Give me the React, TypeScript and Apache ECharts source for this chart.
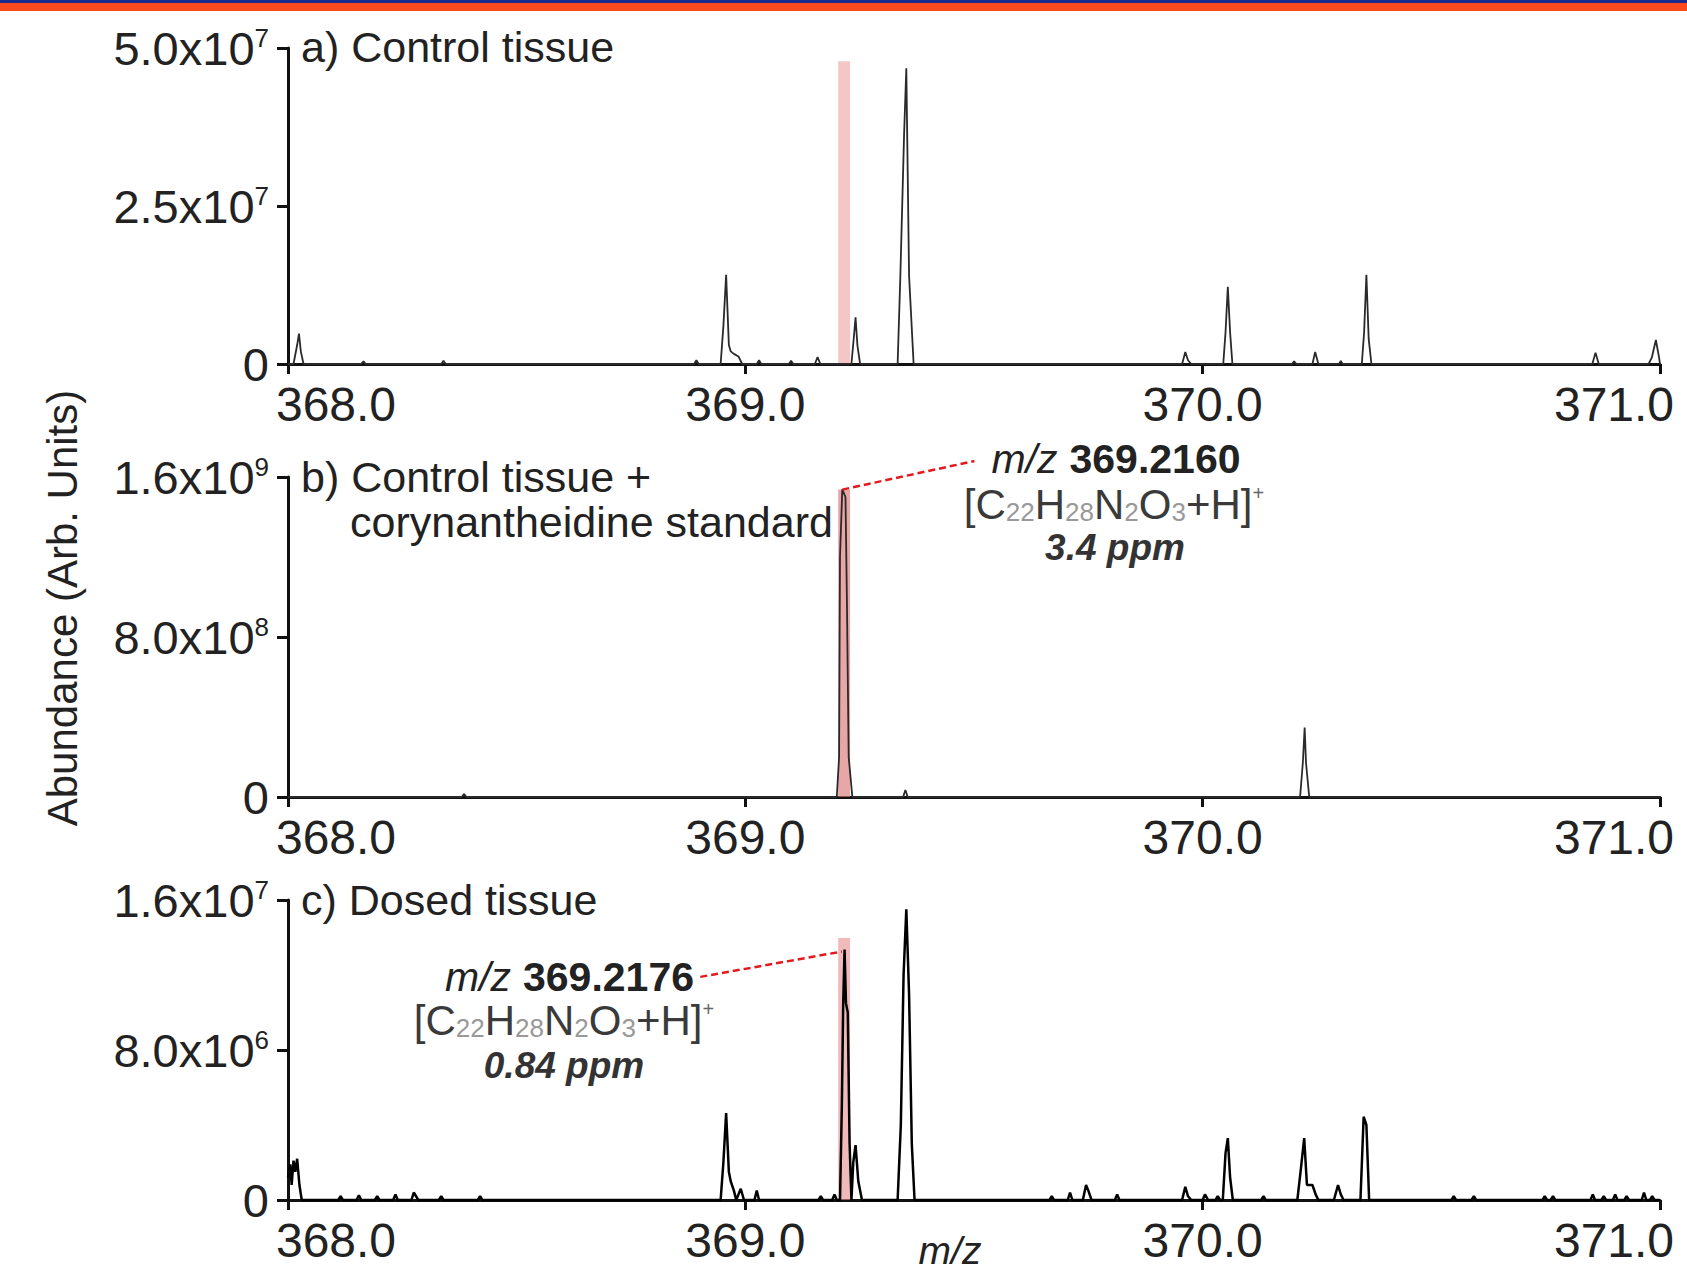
import React, { useEffect, useRef } from 'react';
import * as echarts from 'echarts';

// ---------- DATA ----------
const mzMin = 368;
const mzMax = 371;
const mzStep = 1;

const yMaxA = 5e7, yStepA = 2.5e7;
const yMaxB = 1.6e9, yStepB = 8e8;
const yMaxC = 1.6e7, yStepC = 8e6;

// a) Control tissue  [m/z, abundance]
const controlSpectrum: [number, number][] = [
  [368.0, 0], [368.012, 0], [368.02, 3.0e6], [368.024, 4.8e6], [368.028, 2.0e6], [368.034, 0],
  [368.16, 0], [368.165, 4e5], [368.17, 0],
  [368.335, 0], [368.34, 5e5], [368.345, 0],
  [368.888, 0], [368.893, 6e5], [368.898, 0],
  [368.946, 0], [368.952, 6.0e6], [368.958, 1.41e7], [368.964, 3.0e6], [368.968, 2.0e6], [368.975, 1.6e6], [368.985, 1.2e6], [368.993, 0],
  [369.025, 0], [369.03, 6e5], [369.035, 0],
  [369.095, 0], [369.1, 5e5], [369.105, 0],
  [369.152, 0], [369.158, 1.1e6], [369.164, 0],
  [369.232, 0], [369.237, 4.0e6], [369.241, 7.4e6], [369.245, 3.0e6], [369.251, 0],
  [369.333, 0], [369.339, 1.4e7], [369.347, 3.6e7], [369.352, 4.68e7], [369.358, 1.4e7], [369.368, 0],
  [369.955, 0], [369.962, 1.9e6], [369.968, 6e5], [369.975, 0],
  [370.045, 0], [370.05, 5.0e6], [370.055, 1.22e7], [370.06, 5.0e6], [370.065, 0],
  [370.195, 0], [370.2, 4e5], [370.205, 0],
  [370.24, 0], [370.246, 1.9e6], [370.253, 0],
  [370.298, 0], [370.302, 5e5], [370.306, 0],
  [370.348, 0], [370.353, 5.0e6], [370.358, 1.41e7], [370.363, 4.0e6], [370.369, 0],
  [370.852, 0], [370.859, 1.8e6], [370.866, 0],
  [370.975, 0], [370.982, 1.0e6], [370.991, 3.8e6], [370.998, 1.0e6], [371.0, 0],
];

// b) Control tissue + corynantheidine standard
const standardSpectrum: [number, number][] = [
  [368.0, 0],
  [368.38, 0], [368.385, 1.5e7], [368.39, 0],
  [369.2, 0], [369.205, 2.0e8], [369.207, 1.2e9], [369.212, 1.538e9], [369.219, 1.5e9], [369.222, 1.0e9], [369.226, 2.0e8], [369.234, 0],
  [369.345, 0], [369.35, 3.5e7], [369.355, 0],
  [370.213, 0], [370.219, 1.7e8], [370.223, 3.47e8], [370.226, 1.7e8], [370.233, 0],
  [371.0, 0],
];

// c) Dosed tissue
const dosedSpectrum: [number, number][] = [
  [368.0, 1.2e6], [368.005, 1.9e6], [368.008, 8e5], [368.012, 2.1e6], [368.016, 1.5e6], [368.02, 2.2e6], [368.025, 8e5], [368.03, 0],
  [368.11, 0], [368.115, 2e5], [368.12, 0], [368.15, 0], [368.155, 2.5e5], [368.16, 0],
  [368.19, 0], [368.195, 2e5], [368.2, 0], [368.23, 0], [368.235, 3e5], [368.24, 0],
  [368.27, 0], [368.275, 4e5], [368.28, 2e5], [368.285, 0], [368.33, 0], [368.335, 2e5], [368.34, 0],
  [368.415, 0], [368.42, 2e5], [368.425, 0],
  [368.946, 0], [368.952, 2.0e6], [368.958, 4.64e6], [368.964, 1.5e6], [368.968, 1.0e6], [368.975, 5e5], [368.98, 0], [368.99, 6e5], [368.997, 0],
  [369.02, 0], [369.025, 5e5], [369.03, 0],
  [369.16, 0], [369.165, 2e5], [369.17, 0], [369.19, 0], [369.195, 3e5], [369.2, 0],
  [369.207, 0], [369.211, 5.0e6], [369.214, 1.05e7], [369.217, 1.336e7], [369.22, 1.05e7], [369.224, 1.0e7], [369.228, 3.0e6], [369.232, 0],
  [369.236, 2.0e6], [369.241, 2.93e6], [369.247, 1.0e6], [369.255, 0],
  [369.333, 0], [369.34, 4.0e6], [369.346, 1.2e7], [369.352, 1.55e7], [369.358, 1.1e7], [369.364, 3.0e6], [369.37, 0],
  [369.665, 0], [369.67, 2e5], [369.675, 0], [369.705, 0], [369.71, 4e5], [369.715, 0],
  [369.738, 0], [369.745, 8e5], [369.75, 5e5], [369.757, 0],
  [369.808, 0], [369.813, 3e5], [369.818, 0],
  [369.955, 0], [369.962, 7e5], [369.968, 2e5], [369.975, 0],
  [370.0, 0], [370.005, 3e5], [370.012, 0], [370.028, 0], [370.033, 2e5], [370.038, 0],
  [370.044, 0], [370.05, 2.5e6], [370.055, 3.3e6], [370.06, 1.2e6], [370.066, 0],
  [370.128, 0], [370.133, 2e5], [370.138, 0],
  [370.207, 0], [370.214, 1.5e6], [370.222, 3.3e6], [370.228, 8e5], [370.24, 8e5], [370.247, 3e5], [370.253, 0],
  [370.287, 0], [370.296, 8e5], [370.302, 3e5], [370.308, 0],
  [370.345, 0], [370.352, 4.44e6], [370.358, 4.0e6], [370.364, 0],
  [370.544, 0], [370.549, 2e5], [370.554, 0], [370.588, 0], [370.593, 2e5], [370.598, 0],
  [370.743, 0], [370.748, 2e5], [370.753, 0], [370.761, 0], [370.766, 2e5], [370.771, 0],
  [370.848, 0], [370.853, 3e5], [370.858, 0], [370.872, 0], [370.877, 2e5], [370.882, 0],
  [370.897, 0], [370.902, 3e5], [370.907, 0], [370.922, 0], [370.927, 2e5], [370.932, 0],
  [370.96, 0], [370.965, 4e5], [370.97, 0], [370.978, 0], [370.983, 2e5], [370.988, 0],
  [371.0, 0],
];

// highlighted m/z window and its height in each panel
const highlightMz: [number, number] = [369.203, 369.229];
const highlightTop = [4.79e7, 1.538e9, 1.397e7];

// dashed leader lines [from, to] in data coordinates
const leaderB: [number, number][] = [[369.212, 1.537e9], [369.501, 1.68e9]];
const leaderC: [number, number][] = [[368.9015, 1.19e7], [369.211, 1.325e7]];

// texts
const panelTitles = ['a) Control tissue', 'b) Control tissue +', 'corynantheidine standard', 'c) Dosed tissue'];
const yAxisTitle = 'Abundance (Arb. Units)';
const xAxisTitle = 'm/z';
const annotB = { mz: '369.2160', ppm: '3.4 ppm' };
const annotC = { mz: '369.2176', ppm: '0.84 ppm' };

// ---------- STYLE / LAYOUT ----------
const FONT = '"Liberation Sans", Arial, Helvetica, sans-serif';
const W = 1687;
const H = 1271;
const gridLeft = 288;
const gridRight = W - 1660;
const grids = [
  { top: 48, height: 316 },
  { top: 477, height: 320 },
  { top: 900, height: 300 },
];

const sciLabel = (v: number) => {
  if (v === 0) return '0';
  const e = Math.floor(Math.log10(v) + 1e-9);
  const m = v / Math.pow(10, e);
  return `${m.toFixed(1)}x10{sup|${e}}`;
};

const mzLabel = (v: number) => {
  const s = v.toFixed(1);
  if (v === mzMin) return `{first|${s}}`;
  if (v === mzMax) return `{last|${s}}`;
  return s;
};

const formulaRichText = '{m|[C}{sub|22}{m|H}{sub|28}{m|N}{sub|2}{m|O}{sub|3}{m|+H]}{sup|+}';

function textEl(x: number, y: number, text: string, opts: any = {}) {
  const align = opts.align || 'left';
  return {
    type: 'text',
    x,
    y,
    rotation: opts.rotation || 0,
    silent: true,
    z: 10,
    style: {
      text,
      fontFamily: FONT,
      fontSize: opts.fontSize || 43,
      fontStyle: opts.fontStyle || 'normal',
      fontWeight: opts.fontWeight || 'normal',
      fill: opts.fill || '#222',
      textAlign: align,
      align,
      textVerticalAlign: 'middle',
      verticalAlign: 'middle',
      rich: opts.rich,
    },
  };
}

const annRich = {
  i: { fontStyle: 'italic', fontSize: 41, fontFamily: FONT, fill: '#222', color: '#222' },
  b: { fontWeight: 'bold', fontSize: 41, fontFamily: FONT, fill: '#222', color: '#222' },
};
const formulaRich = {
  m: { fontSize: 42, fontFamily: FONT, fill: '#3a3a3a', color: '#3a3a3a' },
  sub: { fontSize: 26, fontFamily: FONT, fill: '#999', color: '#999', verticalAlign: 'bottom' },
  sup: { fontSize: 20, fontFamily: FONT, fill: '#666', color: '#666', verticalAlign: 'top' },
};

export default function App() {
  const ref = useRef<HTMLDivElement>(null);

  useEffect(() => {
    if (!ref.current) return;
    const chart = echarts.init(ref.current, undefined, { renderer: 'svg' });

    const maxes = [yMaxA, yMaxB, yMaxC];
    const steps = [yStepA, yStepB, yStepC];
    const spectra = [controlSpectrum, standardSpectrum, dosedSpectrum];
    const lineColors = ['#2a2a2a', '#2a2a2a', '#000'];
    const lineWidths = [1.8, 1.8, 2.5];
    const bandColors = ['rgba(238,160,160,0.6)', 'rgba(220,120,120,0.65)', 'rgba(232,140,140,0.6)'];

    const series: any[] = [];
    spectra.forEach((data, i) => {
      series.push({
        type: 'line',
        xAxisIndex: i,
        yAxisIndex: i,
        data: [],
        z: 1,
        silent: true,
        markArea: {
          silent: true,
          itemStyle: { color: bandColors[i] },
          data: [[{ coord: [highlightMz[0], 0] }, { coord: [highlightMz[1], highlightTop[i]] }]],
        },
      });
      series.push({
        type: 'line',
        xAxisIndex: i,
        yAxisIndex: i,
        data,
        showSymbol: false,
        symbol: 'none',
        clip: false,
        z: 3,
        silent: true,
        lineStyle: { color: lineColors[i], width: lineWidths[i] },
      });
    });
    const leaders = [
      { idx: 1, pts: leaderB },
      { idx: 2, pts: leaderC },
    ];
    leaders.forEach(({ idx, pts }) => {
      series.push({
        type: 'line',
        xAxisIndex: idx,
        yAxisIndex: idx,
        data: pts,
        showSymbol: false,
        symbol: 'none',
        clip: false,
        z: 6,
        silent: true,
        lineStyle: { type: [7, 4], color: '#e3191c', width: 2.5 },
      });
    });

    const xLabelBase = { fontSize: 48, fontFamily: FONT, color: '#222' };

    const option: any = {
      animation: false,
      backgroundColor: '#ffffff',
      grid: grids.map((g) => ({
        left: gridLeft,
        right: gridRight,
        top: g.top,
        height: g.height,
        containLabel: false,
        outerBoundsMode: 'none',
      })),
      xAxis: grids.map((_, i) => ({
        type: 'value',
        gridIndex: i,
        min: mzMin,
        max: mzMax,
        interval: mzStep,
        splitLine: { show: false },
        axisLine: { onZero: false, lineStyle: { color: '#111', width: 3 } },
        axisTick: { show: true, length: 10, lineStyle: { color: '#111', width: 3 } },
        axisLabel: {
          margin: 16,
          ...xLabelBase,
          formatter: mzLabel,
          rich: {
            first: { ...xLabelBase, padding: [0, 0, 0, 96] },
            last: { ...xLabelBase, padding: [0, 92, 0, 0] },
          },
        },
      })),
      yAxis: grids.map((_, i) => ({
        type: 'value',
        gridIndex: i,
        min: 0,
        max: maxes[i],
        interval: steps[i],
        splitLine: { show: false },
        axisLine: { show: true, lineStyle: { color: '#111', width: 3 } },
        axisTick: { show: true, length: 11, lineStyle: { color: '#111', width: 3 } },
        axisLabel: {
          margin: 19,
          fontSize: 47,
          fontFamily: FONT,
          color: '#222',
          formatter: sciLabel,
          rich: {
            sup: { fontSize: 26, fontFamily: FONT, color: '#222', verticalAlign: 'top' },
          },
        },
      })),
      series,
      graphic: [
        { type: 'rect', shape: { x: 0, y: 0, width: W, height: 3 }, style: { fill: '#1b2a8c' }, silent: true, z: 10 },
        { type: 'rect', shape: { x: 0, y: 3, width: W, height: 8 }, style: { fill: '#ff4a1e' }, silent: true, z: 10 },
        textEl(301, 47, panelTitles[0]),
        textEl(301, 477, panelTitles[1]),
        textEl(350, 522, panelTitles[2]),
        textEl(301, 900, panelTitles[3]),
        textEl(62, 608, yAxisTitle, { align: 'center', rotation: Math.PI / 2, fontSize: 42 }),
        textEl(950, 1250, xAxisTitle, { align: 'center', fontStyle: 'italic', fontSize: 39 }),
        // annotation b
        textEl(1116, 459, `{i|m/z} {b|${annotB.mz}}`, { align: 'center', rich: annRich }),
        textEl(1114, 504, formulaRichText, { align: 'center', rich: formulaRich }),
        textEl(1115, 547, annotB.ppm, { align: 'center', fontStyle: 'italic', fontWeight: 'bold', fontSize: 37, fill: '#333' }),
        // annotation c
        textEl(694, 977, `{i|m/z} {b|${annotC.mz}}`, { align: 'right', rich: annRich }),
        textEl(564, 1020, formulaRichText, { align: 'center', rich: formulaRich }),
        textEl(564, 1065, annotC.ppm, { align: 'center', fontStyle: 'italic', fontWeight: 'bold', fontSize: 37, fill: '#333' }),
      ],
    };

    chart.setOption(option);
    return () => chart.dispose();
  }, []);

  return (
    <div
      ref={ref}
      style={{ position: 'absolute', left: 0, top: 0, width: W, height: H, background: '#fff' }}
    />
  );
}
